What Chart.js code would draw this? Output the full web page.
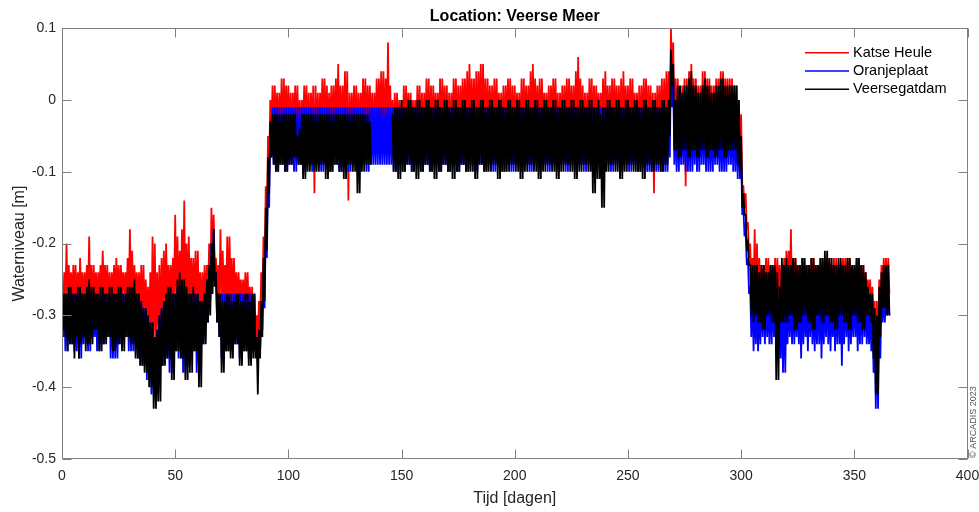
<!DOCTYPE html>
<html>
<head>
<meta charset="utf-8">
<script src="https://cdn.jsdelivr.net/npm/chart.js@4/dist/chart.umd.min.js"></script>
<style>
html,body{margin:0;padding:0;background:#ffffff;}
canvas{display:block;}
</style>
</head>
<body>
<canvas id="c" width="979" height="512"></canvas>
<script>
// ---- Data: water level [m], daily high and daily low per station (day 0..365) ----
const seriesNames = ['Katse Heule', 'Oranjeplaat', 'Veersegatdam'];
const seriesColors = ['#ff0000', '#0000ff', '#000000'];
const xTickValues = [0, 50, 100, 150, 200, 250, 300, 350, 400];
const yTickValues = [-0.5, -0.4, -0.3, -0.2, -0.1, 0, 0.1];

const katseHeuleHigh = [
-0.26,-0.24,-0.20,-0.23,-0.24,-0.23,-0.23,-0.24,-0.22,-0.24,
-0.24,-0.23,-0.19,-0.23,-0.23,-0.24,-0.24,-0.23,-0.21,-0.23,
-0.23,-0.24,-0.24,-0.23,-0.22,-0.23,-0.23,-0.24,-0.24,-0.22,
-0.18,-0.21,-0.23,-0.24,-0.24,-0.23,-0.23,-0.25,-0.26,-0.24,
-0.19,-0.20,-0.24,-0.23,-0.22,-0.21,-0.20,-0.23,-0.23,-0.22,
-0.16,-0.19,-0.21,-0.18,-0.14,-0.20,-0.19,-0.22,-0.22,-0.21,
-0.21,-0.24,-0.24,-0.23,-0.23,-0.20,-0.15,-0.16,-0.22,-0.23,
-0.18,-0.21,-0.23,-0.19,-0.19,-0.22,-0.22,-0.24,-0.24,-0.25,
-0.25,-0.24,-0.24,-0.26,-0.26,-0.27,-0.30,-0.28,-0.24,-0.19,
-0.12,-0.05,0.00,0.02,0.02,0.01,0.01,0.03,0.03,0.02,
0.02,0.01,0.01,0.02,0.02,0.00,0.00,0.02,0.02,0.01,
0.01,0.02,0.02,0.01,0.01,0.03,0.03,0.02,0.01,0.02,
0.02,0.03,0.05,0.02,0.02,0.04,0.04,0.01,0.01,0.02,
0.02,0.01,0.01,0.03,0.03,0.02,0.02,0.01,0.01,0.03,
0.03,0.04,0.04,0.03,0.08,0.02,0.00,0.01,0.01,0.00,
0.00,0.02,0.02,0.01,0.01,0.00,0.00,0.02,0.02,0.01,
0.01,0.03,0.03,0.02,0.02,0.01,0.01,0.03,0.03,0.02,
0.02,0.01,0.01,0.03,0.03,0.02,0.02,0.03,0.03,0.04,
0.05,0.03,0.03,0.04,0.04,0.05,0.05,0.03,0.03,0.02,
0.02,0.03,0.03,0.01,0.01,0.02,0.02,0.03,0.03,0.02,
0.02,0.01,0.01,0.03,0.03,0.02,0.02,0.04,0.05,0.03,
0.02,0.03,0.03,0.01,0.01,0.02,0.02,0.03,0.03,0.01,
0.01,0.02,0.02,0.03,0.03,0.02,0.02,0.04,0.06,0.03,
0.02,0.01,0.01,0.03,0.03,0.02,0.02,0.01,0.01,0.03,
0.04,0.02,0.02,0.03,0.03,0.02,0.02,0.03,0.04,0.02,
0.02,0.03,0.03,0.01,0.01,0.02,0.02,0.03,0.03,0.02,
0.02,0.01,0.01,0.02,0.02,0.03,0.03,0.04,0.04,0.10,
0.08,0.03,0.03,0.02,0.02,0.03,0.03,0.04,0.05,0.03,
0.03,0.02,0.02,0.04,0.04,0.03,0.03,0.02,0.02,0.03,
0.03,0.04,0.04,0.03,0.03,0.03,0.03,0.02,0.02,0.00,
-0.02,-0.12,-0.13,-0.17,-0.20,-0.22,-0.18,-0.20,-0.22,-0.23,
-0.23,-0.22,-0.22,-0.23,-0.23,-0.22,-0.22,-0.23,-0.23,-0.22,
-0.21,-0.21,-0.18,-0.22,-0.22,-0.23,-0.23,-0.22,-0.22,-0.23,
-0.23,-0.22,-0.22,-0.23,-0.23,-0.22,-0.22,-0.23,-0.22,-0.22,
-0.23,-0.22,-0.22,-0.23,-0.23,-0.22,-0.22,-0.22,-0.22,-0.23,
-0.23,-0.22,-0.22,-0.23,-0.23,-0.24,-0.25,-0.25,-0.26,-0.28,
-0.28,-0.25,-0.23,-0.22,-0.22,-0.22
];
const katseHeuleLow = [
-0.29,-0.28,-0.28,-0.28,-0.28,-0.28,-0.29,-0.29,-0.28,-0.28,
-0.28,-0.28,-0.29,-0.29,-0.28,-0.28,-0.27,-0.27,-0.28,-0.28,
-0.29,-0.29,-0.28,-0.28,-0.28,-0.28,-0.27,-0.27,-0.28,-0.28,
-0.29,-0.29,-0.28,-0.28,-0.30,-0.30,-0.31,-0.31,-0.33,-0.33,
-0.34,-0.34,-0.32,-0.32,-0.29,-0.29,-0.28,-0.28,-0.28,-0.28,
-0.29,-0.29,-0.28,-0.28,-0.29,-0.29,-0.28,-0.28,-0.29,-0.29,
-0.30,-0.30,-0.29,-0.29,-0.28,-0.28,-0.22,-0.24,-0.28,-0.28,
-0.28,-0.28,-0.29,-0.29,-0.28,-0.28,-0.29,-0.29,-0.28,-0.28,
-0.29,-0.29,-0.30,-0.30,-0.35,-0.35,-0.34,-0.32,-0.29,-0.24,
-0.17,-0.10,-0.05,-0.06,-0.05,-0.05,-0.06,-0.06,-0.05,-0.05,
-0.06,-0.06,-0.05,-0.05,-0.06,-0.06,-0.05,-0.05,-0.06,-0.06,
-0.05,-0.13,-0.06,-0.06,-0.05,-0.05,-0.06,-0.06,-0.05,-0.05,
-0.06,-0.06,-0.05,-0.05,-0.06,-0.06,-0.14,-0.05,-0.05,-0.06,
-0.06,-0.05,-0.05,-0.06,-0.06,-0.05,-0.05,-0.06,-0.06,-0.05,
-0.05,-0.05,-0.06,-0.06,-0.05,-0.05,-0.06,-0.06,-0.05,-0.05,
-0.06,-0.06,-0.05,-0.05,-0.06,-0.06,-0.05,-0.05,-0.06,-0.06,
-0.05,-0.05,-0.06,-0.06,-0.05,-0.05,-0.06,-0.06,-0.05,-0.05,
-0.06,-0.06,-0.05,-0.05,-0.06,-0.06,-0.05,-0.05,-0.06,-0.06,
-0.05,-0.05,-0.06,-0.06,-0.05,-0.05,-0.06,-0.06,-0.05,-0.05,
-0.06,-0.06,-0.05,-0.05,-0.06,-0.06,-0.05,-0.05,-0.06,-0.06,
-0.05,-0.05,-0.06,-0.06,-0.05,-0.05,-0.06,-0.06,-0.05,-0.05,
-0.06,-0.06,-0.05,-0.05,-0.06,-0.06,-0.05,-0.05,-0.06,-0.06,
-0.05,-0.05,-0.06,-0.06,-0.05,-0.05,-0.06,-0.06,-0.05,-0.05,
-0.06,-0.06,-0.05,-0.05,-0.06,-0.06,-0.05,-0.05,-0.06,-0.06,
-0.05,-0.05,-0.06,-0.06,-0.05,-0.05,-0.06,-0.06,-0.05,-0.05,
-0.06,-0.06,-0.05,-0.05,-0.06,-0.06,-0.05,-0.05,-0.06,-0.06,
-0.06,-0.13,-0.05,-0.05,-0.06,-0.06,-0.05,-0.05,-0.04,0.03,
-0.05,-0.06,-0.06,-0.05,-0.05,-0.12,-0.05,-0.05,-0.06,-0.06,
-0.05,-0.05,-0.06,-0.06,-0.05,-0.05,-0.06,-0.06,-0.05,-0.05,
-0.06,-0.06,-0.05,-0.05,-0.06,-0.06,-0.05,-0.05,-0.06,-0.08,
-0.12,-0.15,-0.18,-0.22,-0.26,-0.27,-0.28,-0.28,-0.27,-0.27,
-0.28,-0.28,-0.27,-0.27,-0.28,-0.28,-0.27,-0.27,-0.28,-0.28,
-0.27,-0.27,-0.28,-0.28,-0.27,-0.27,-0.28,-0.28,-0.27,-0.27,
-0.28,-0.28,-0.27,-0.27,-0.28,-0.28,-0.27,-0.27,-0.28,-0.28,
-0.27,-0.27,-0.28,-0.28,-0.27,-0.27,-0.28,-0.28,-0.27,-0.27,
-0.28,-0.28,-0.27,-0.27,-0.28,-0.28,-0.28,-0.30,-0.33,-0.38,
-0.38,-0.30,-0.27,-0.27,-0.27,-0.27
];

const oranjeplaatHigh = [
-0.29,-0.27,-0.27,-0.27,-0.27,-0.27,-0.27,-0.27,-0.27,-0.27,
-0.27,-0.27,-0.27,-0.27,-0.27,-0.27,-0.27,-0.27,-0.27,-0.27,
-0.27,-0.27,-0.27,-0.27,-0.27,-0.27,-0.27,-0.27,-0.27,-0.27,
-0.27,-0.27,-0.27,-0.27,-0.27,-0.28,-0.29,-0.29,-0.30,-0.31,
-0.31,-0.33,-0.32,-0.30,-0.29,-0.28,-0.27,-0.27,-0.27,-0.27,
-0.27,-0.26,-0.26,-0.26,-0.26,-0.26,-0.27,-0.27,-0.27,-0.27,
-0.27,-0.28,-0.28,-0.27,-0.26,-0.24,-0.20,-0.18,-0.24,-0.27,
-0.27,-0.27,-0.27,-0.27,-0.27,-0.27,-0.27,-0.27,-0.27,-0.27,
-0.27,-0.27,-0.27,-0.27,-0.27,-0.27,-0.33,-0.33,-0.30,-0.25,
-0.18,-0.11,-0.04,-0.01,-0.01,-0.01,-0.01,-0.01,-0.01,-0.01,
-0.01,-0.01,-0.01,-0.01,-0.01,-0.01,-0.01,-0.01,-0.01,-0.01,
-0.01,-0.01,-0.01,-0.01,-0.01,-0.01,-0.01,-0.01,-0.01,-0.01,
-0.01,-0.01,-0.01,-0.01,-0.01,-0.01,-0.01,-0.01,-0.01,-0.01,
-0.01,-0.01,-0.01,-0.01,-0.01,-0.01,-0.01,-0.01,-0.01,-0.01,
-0.01,-0.01,-0.01,-0.01,-0.01,-0.01,-0.01,-0.01,-0.01,-0.01,
-0.01,-0.01,-0.01,-0.01,-0.01,-0.01,-0.01,-0.01,-0.01,-0.01,
-0.01,-0.01,-0.01,-0.01,-0.01,-0.01,-0.01,-0.01,-0.01,-0.01,
-0.01,-0.01,-0.01,-0.01,-0.01,-0.01,-0.01,-0.01,-0.01,-0.01,
-0.01,-0.01,-0.01,-0.01,-0.01,-0.01,-0.01,-0.01,-0.01,-0.01,
-0.01,-0.01,-0.01,-0.01,-0.01,-0.01,-0.01,-0.01,-0.01,-0.01,
-0.01,-0.01,-0.01,-0.01,-0.01,-0.01,-0.01,-0.01,-0.01,-0.01,
-0.01,-0.01,-0.01,-0.01,-0.01,-0.01,-0.01,-0.01,-0.01,-0.01,
-0.01,-0.01,-0.01,-0.01,-0.01,-0.01,-0.01,-0.01,-0.01,-0.01,
-0.01,-0.01,-0.01,-0.01,-0.01,-0.01,-0.01,-0.01,-0.01,-0.01,
-0.01,-0.01,-0.01,-0.01,-0.01,-0.01,-0.01,-0.01,-0.01,-0.01,
-0.01,-0.01,-0.01,-0.01,-0.01,-0.01,-0.01,-0.01,-0.01,-0.01,
-0.01,-0.01,-0.01,-0.01,-0.01,-0.01,-0.01,-0.01,-0.01,0.05,
0.03,-0.01,-0.01,-0.01,-0.01,0.00,0.00,-0.01,-0.01,-0.01,
-0.01,-0.01,-0.01,-0.01,0.00,0.00,-0.01,-0.01,-0.01,-0.01,
-0.01,-0.01,-0.01,-0.01,-0.01,-0.01,-0.01,-0.01,-0.01,-0.02,
-0.07,-0.15,-0.18,-0.22,-0.26,-0.26,-0.26,-0.27,-0.27,-0.26,
-0.26,-0.27,-0.27,-0.26,-0.26,-0.27,-0.27,-0.28,-0.26,-0.26,
-0.27,-0.27,-0.26,-0.26,-0.27,-0.27,-0.26,-0.26,-0.27,-0.27,
-0.26,-0.26,-0.27,-0.27,-0.26,-0.26,-0.27,-0.27,-0.26,-0.26,
-0.27,-0.27,-0.26,-0.26,-0.27,-0.27,-0.26,-0.26,-0.27,-0.27,
-0.26,-0.27,-0.27,-0.26,-0.26,-0.27,-0.28,-0.28,-0.29,-0.31,
-0.32,-0.28,-0.27,-0.27,-0.27,-0.27
];
const oranjeplaatLow = [
-0.33,-0.35,-0.35,-0.34,-0.34,-0.35,-0.35,-0.36,-0.36,-0.34,
-0.34,-0.35,-0.35,-0.33,-0.33,-0.35,-0.35,-0.34,-0.34,-0.33,
-0.33,-0.36,-0.36,-0.36,-0.36,-0.34,-0.34,-0.33,-0.33,-0.35,
-0.35,-0.35,-0.35,-0.36,-0.36,-0.37,-0.37,-0.39,-0.39,-0.41,
-0.41,-0.41,-0.41,-0.37,-0.37,-0.36,-0.36,-0.38,-0.38,-0.35,
-0.35,-0.36,-0.36,-0.38,-0.38,-0.37,-0.37,-0.35,-0.35,-0.38,
-0.38,-0.34,-0.34,-0.31,-0.31,-0.28,-0.26,-0.25,-0.31,-0.33,
-0.36,-0.36,-0.35,-0.35,-0.35,-0.35,-0.34,-0.34,-0.36,-0.36,
-0.35,-0.35,-0.36,-0.36,-0.35,-0.35,-0.37,-0.35,-0.32,-0.29,
-0.22,-0.15,-0.08,-0.09,-0.10,-0.10,-0.09,-0.09,-0.10,-0.10,
-0.09,-0.09,-0.10,-0.10,-0.09,-0.09,-0.10,-0.10,-0.09,-0.09,
-0.10,-0.10,-0.09,-0.09,-0.10,-0.10,-0.09,-0.09,-0.10,-0.10,
-0.09,-0.09,-0.10,-0.10,-0.09,-0.09,-0.10,-0.10,-0.09,-0.09,
-0.10,-0.10,-0.09,-0.09,-0.10,-0.10,-0.09,-0.09,-0.09,-0.09,
-0.09,-0.09,-0.09,-0.09,-0.09,-0.09,-0.10,-0.10,-0.09,-0.09,
-0.10,-0.10,-0.09,-0.09,-0.10,-0.10,-0.09,-0.09,-0.10,-0.10,
-0.09,-0.09,-0.10,-0.10,-0.09,-0.09,-0.10,-0.10,-0.09,-0.09,
-0.10,-0.10,-0.09,-0.09,-0.10,-0.10,-0.09,-0.09,-0.10,-0.10,
-0.09,-0.09,-0.10,-0.10,-0.09,-0.09,-0.10,-0.10,-0.09,-0.09,
-0.10,-0.10,-0.09,-0.09,-0.10,-0.10,-0.09,-0.09,-0.10,-0.10,
-0.09,-0.09,-0.10,-0.10,-0.09,-0.09,-0.10,-0.10,-0.09,-0.09,
-0.10,-0.10,-0.09,-0.09,-0.10,-0.10,-0.09,-0.09,-0.10,-0.10,
-0.09,-0.09,-0.10,-0.10,-0.09,-0.09,-0.10,-0.10,-0.09,-0.09,
-0.10,-0.10,-0.09,-0.09,-0.10,-0.10,-0.09,-0.09,-0.10,-0.10,
-0.09,-0.09,-0.10,-0.10,-0.09,-0.09,-0.10,-0.10,-0.09,-0.09,
-0.10,-0.10,-0.09,-0.09,-0.10,-0.10,-0.09,-0.09,-0.10,-0.10,
-0.10,-0.10,-0.10,-0.10,-0.10,-0.10,-0.10,-0.10,-0.08,-0.01,
-0.09,-0.10,-0.10,-0.09,-0.09,-0.10,-0.10,-0.10,-0.10,-0.09,
-0.10,-0.10,-0.09,-0.09,-0.10,-0.10,-0.10,-0.10,-0.09,-0.09,
-0.10,-0.10,-0.10,-0.10,-0.09,-0.09,-0.10,-0.10,-0.11,-0.11,
-0.16,-0.19,-0.23,-0.27,-0.33,-0.35,-0.34,-0.35,-0.34,-0.33,
-0.34,-0.33,-0.34,-0.34,-0.33,-0.34,-0.36,-0.36,-0.38,-0.38,
-0.34,-0.33,-0.34,-0.34,-0.33,-0.34,-0.36,-0.34,-0.33,-0.35,
-0.33,-0.34,-0.35,-0.34,-0.34,-0.36,-0.34,-0.33,-0.34,-0.35,
-0.33,-0.35,-0.34,-0.34,-0.37,-0.34,-0.33,-0.35,-0.34,-0.33,
-0.33,-0.35,-0.34,-0.34,-0.33,-0.34,-0.34,-0.35,-0.38,-0.43,
-0.43,-0.36,-0.31,-0.31,-0.30,-0.30
];

const veersegatdamHigh = [
-0.29,-0.27,-0.27,-0.26,-0.26,-0.27,-0.27,-0.26,-0.26,-0.27,
-0.27,-0.26,-0.25,-0.26,-0.26,-0.27,-0.27,-0.26,-0.26,-0.27,
-0.27,-0.26,-0.26,-0.27,-0.27,-0.26,-0.26,-0.27,-0.27,-0.26,
-0.26,-0.26,-0.25,-0.27,-0.27,-0.28,-0.29,-0.29,-0.30,-0.31,
-0.31,-0.33,-0.32,-0.30,-0.29,-0.28,-0.27,-0.26,-0.26,-0.27,
-0.27,-0.25,-0.24,-0.25,-0.25,-0.26,-0.27,-0.27,-0.26,-0.27,
-0.27,-0.28,-0.28,-0.27,-0.25,-0.23,-0.20,-0.18,-0.24,-0.27,
-0.27,-0.28,-0.28,-0.27,-0.27,-0.28,-0.28,-0.27,-0.27,-0.28,
-0.28,-0.27,-0.27,-0.28,-0.27,-0.27,-0.33,-0.32,-0.28,-0.22,
-0.15,-0.08,-0.03,-0.02,-0.02,-0.02,-0.02,-0.02,-0.02,-0.02,
-0.02,-0.02,-0.02,-0.02,-0.05,-0.04,-0.02,-0.02,-0.02,-0.02,
-0.02,-0.02,-0.02,-0.02,-0.02,-0.02,-0.02,-0.02,-0.02,-0.02,
-0.02,-0.02,-0.02,-0.02,-0.02,-0.02,-0.02,-0.02,-0.02,-0.02,
-0.02,-0.02,-0.02,-0.02,-0.02,-0.02,-0.03,null,null,null,
null,null,null,null,null,null,-0.02,-0.01,-0.01,-0.01,
0.00,-0.01,-0.01,0.00,0.00,-0.01,-0.01,0.00,0.00,-0.01,
-0.01,0.00,0.00,-0.01,-0.01,0.00,0.00,-0.01,-0.01,0.00,
0.00,-0.01,-0.01,0.00,0.00,-0.01,-0.01,0.00,0.00,-0.01,
-0.01,0.00,0.00,-0.01,-0.01,0.00,0.00,-0.01,-0.01,0.00,
0.00,-0.01,-0.01,0.00,0.00,-0.01,-0.01,0.00,0.00,-0.01,
-0.01,0.00,0.00,-0.01,-0.01,0.00,0.00,-0.01,-0.01,0.00,
0.00,-0.01,-0.01,0.00,0.00,-0.01,-0.01,0.00,0.00,-0.01,
-0.01,0.00,0.00,-0.01,-0.01,0.00,0.00,-0.01,-0.01,0.00,
0.00,-0.01,-0.01,0.00,0.00,-0.01,-0.01,0.00,-0.02,-0.01,
-0.01,0.00,0.00,-0.01,-0.01,0.00,0.00,-0.01,-0.01,0.00,
0.00,-0.01,-0.01,0.00,0.00,-0.01,-0.01,0.00,0.00,-0.01,
-0.01,0.00,0.00,-0.01,-0.01,0.00,0.00,-0.01,0.00,0.07,
0.05,0.00,0.02,0.02,0.01,0.02,0.02,0.03,0.04,0.02,
0.02,0.01,0.01,0.02,0.03,0.02,0.02,0.01,0.01,0.02,
0.02,0.03,0.03,0.02,0.02,0.02,0.02,0.02,0.02,0.00,
-0.05,-0.13,-0.16,-0.20,-0.23,-0.23,-0.23,-0.23,-0.24,-0.23,
-0.23,-0.24,-0.24,-0.23,-0.23,-0.23,-0.24,-0.26,-0.22,-0.23,
-0.22,-0.23,-0.23,-0.22,-0.22,-0.23,-0.23,-0.22,-0.22,-0.23,
-0.23,-0.22,-0.22,-0.23,-0.23,-0.22,-0.22,-0.21,-0.21,-0.22,
-0.22,-0.23,-0.23,-0.22,-0.22,-0.23,-0.23,-0.22,-0.22,-0.23,
-0.23,-0.22,-0.22,-0.23,-0.23,-0.24,-0.26,-0.27,-0.27,-0.29,
-0.30,-0.26,-0.24,-0.23,-0.23,-0.23
];
const veersegatdamLow = [
-0.32,-0.33,-0.35,-0.34,-0.34,-0.36,-0.33,-0.36,-0.34,-0.33,
-0.35,-0.34,-0.34,-0.34,-0.32,-0.32,-0.35,-0.35,-0.34,-0.34,
-0.33,-0.33,-0.35,-0.35,-0.34,-0.34,-0.35,-0.35,-0.33,-0.33,
-0.34,-0.34,-0.36,-0.36,-0.37,-0.37,-0.38,-0.38,-0.40,-0.40,
-0.43,-0.43,-0.42,-0.42,-0.37,-0.37,-0.36,-0.36,-0.39,-0.39,
-0.35,-0.35,-0.36,-0.36,-0.39,-0.39,-0.38,-0.38,-0.35,-0.35,
-0.40,-0.40,-0.34,-0.34,-0.31,-0.30,-0.27,-0.26,-0.31,-0.33,
-0.38,-0.38,-0.35,-0.35,-0.36,-0.36,-0.34,-0.34,-0.37,-0.37,
-0.35,-0.35,-0.37,-0.37,-0.36,-0.36,-0.41,-0.36,-0.33,-0.28,
-0.21,-0.13,-0.08,-0.09,-0.10,-0.10,-0.09,-0.09,-0.10,-0.10,
-0.09,-0.09,-0.08,-0.08,-0.09,-0.09,-0.11,-0.11,-0.10,-0.10,
-0.09,-0.10,-0.10,-0.10,-0.09,-0.09,-0.11,-0.11,-0.10,-0.10,
-0.09,-0.09,-0.10,-0.10,-0.11,-0.11,-0.09,-0.09,-0.10,-0.10,
-0.13,-0.13,-0.10,-0.10,-0.09,-0.09,-0.09,null,null,null,
null,null,null,null,null,null,-0.10,-0.10,-0.11,-0.11,
-0.10,-0.10,-0.09,-0.09,-0.10,-0.10,-0.11,-0.11,-0.10,-0.10,
-0.09,-0.09,-0.10,-0.10,-0.11,-0.11,-0.10,-0.10,-0.09,-0.09,
-0.10,-0.10,-0.11,-0.11,-0.10,-0.10,-0.09,-0.09,-0.10,-0.10,
-0.10,-0.10,-0.11,-0.11,-0.09,-0.09,-0.10,-0.10,-0.10,-0.10,
-0.09,-0.09,-0.11,-0.11,-0.10,-0.10,-0.10,-0.10,-0.09,-0.09,
-0.10,-0.10,-0.11,-0.11,-0.10,-0.10,-0.09,-0.09,-0.10,-0.10,
-0.11,-0.11,-0.10,-0.10,-0.09,-0.09,-0.10,-0.10,-0.11,-0.11,
-0.10,-0.10,-0.09,-0.09,-0.10,-0.10,-0.11,-0.11,-0.10,-0.10,
-0.09,-0.09,-0.10,-0.10,-0.13,-0.13,-0.11,-0.11,-0.15,-0.15,
-0.10,-0.10,-0.09,-0.09,-0.10,-0.10,-0.11,-0.11,-0.10,-0.10,
-0.09,-0.09,-0.10,-0.10,-0.10,-0.10,-0.11,-0.11,-0.09,-0.09,
-0.10,-0.10,-0.09,-0.09,-0.10,-0.10,-0.09,-0.09,-0.05,0.02,
-0.07,-0.07,-0.08,-0.08,-0.07,-0.07,-0.08,-0.08,-0.07,-0.07,
-0.08,-0.08,-0.07,-0.07,-0.08,-0.08,-0.07,-0.07,-0.08,-0.08,
-0.07,-0.07,-0.08,-0.08,-0.07,-0.07,-0.07,-0.07,-0.09,-0.10,
-0.15,-0.16,-0.21,-0.23,-0.30,-0.31,-0.30,-0.31,-0.31,-0.32,
-0.32,-0.30,-0.30,-0.31,-0.31,-0.39,-0.39,-0.31,-0.31,-0.31,
-0.31,-0.30,-0.30,-0.32,-0.32,-0.31,-0.31,-0.30,-0.30,-0.31,
-0.31,-0.32,-0.32,-0.30,-0.30,-0.31,-0.31,-0.30,-0.30,-0.31,
-0.31,-0.32,-0.32,-0.30,-0.30,-0.31,-0.31,-0.32,-0.32,-0.30,
-0.30,-0.31,-0.31,-0.32,-0.32,-0.30,-0.30,-0.31,-0.36,-0.41,
-0.41,-0.33,-0.29,-0.29,-0.30,-0.30
];

const seriesHigh = [katseHeuleHigh, oranjeplaatHigh, veersegatdamHigh];
const seriesLow = [katseHeuleLow, oranjeplaatLow, veersegatdamLow];
const drawOrder = [3, 2, 1]; // Veersegatdam on top, Katse Heule at the back

const FONT = "'Liberation Sans', Arial, Helvetica, sans-serif";
const AXIS_COLOR = '#808080';
const TEXT_COLOR = '#262626';

// daily high at the start of the day, daily low half a day later
function dayPoints(high, low) {
  const pts = [];
  high.forEach((h, d) => {
    pts.push({ x: d, y: h });
    pts.push({ x: d + 0.5, y: low[d] });
  });
  return pts;
}

const datasets = seriesNames.map((name, i) => ({
  label: name,
  data: dayPoints(seriesHigh[i], seriesLow[i]),
  borderColor: seriesColors[i],
  backgroundColor: seriesColors[i],
  borderWidth: 1.8,
  pointRadius: 0,
  pointHoverRadius: 0,
  tension: 0,
  fill: false,
  spanGaps: false,
  order: drawOrder[i]
}));

// Box + inward tick marks (MATLAB style), legend inside the axes, and copyright note
const decorPlugin = {
  id: 'decor',
  afterDraw(chart) {
    const ctx = chart.ctx;
    const a = chart.chartArea;
    const xs = chart.scales.x, ys = chart.scales.y;
    ctx.save();
    ctx.strokeStyle = AXIS_COLOR;
    ctx.lineWidth = 1;
    const L = Math.round(a.left) + 0.5, R = Math.round(a.right) - 0.5;
    const T = Math.round(a.top) + 0.5, B = Math.round(a.bottom) - 0.5;
    ctx.strokeRect(L, T, R - L, B - T);
    const tl = 9;
    ctx.beginPath();
    xTickValues.forEach(v => {
      const px = Math.round(xs.getPixelForValue(v)) + 0.5;
      ctx.moveTo(px, B); ctx.lineTo(px, B - tl);
      ctx.moveTo(px, T); ctx.lineTo(px, T + tl);
    });
    yTickValues.forEach(v => {
      const py = Math.round(ys.getPixelForValue(v)) + 0.5;
      ctx.moveTo(L, py); ctx.lineTo(L + tl, py);
      ctx.moveTo(R, py); ctx.lineTo(R - tl, py);
    });
    ctx.stroke();

    // legend
    const lx0 = 805, lx1 = 849, tx = 853, y0 = 52.7, dy = 18.3;
    ctx.font = '14.5px ' + FONT;
    ctx.textBaseline = 'middle';
    ctx.textAlign = 'left';
    chart.data.datasets.forEach((ds, i) => {
      const y = y0 + i * dy;
      ctx.strokeStyle = ds.borderColor;
      ctx.lineWidth = 1.5;
      ctx.beginPath();
      ctx.moveTo(lx0, y); ctx.lineTo(lx1, y);
      ctx.stroke();
      ctx.fillStyle = '#000000';
      ctx.fillText(ds.label, tx, y);
    });

    // copyright
    ctx.translate(976, 458);
    ctx.rotate(-Math.PI / 2);
    ctx.font = '9px ' + FONT;
    ctx.fillStyle = '#555555';
    ctx.textAlign = 'left';
    ctx.textBaseline = 'alphabetic';
    ctx.fillText('\u00A9 ARCADIS 2023', 0, 0);
    ctx.restore();
  }
};

new Chart(document.getElementById('c'), {
  type: 'line',
  data: { datasets },
  options: {
    responsive: false,
    devicePixelRatio: 1,
    animation: false,
    events: [],
    layout: { padding: { left: 0, right: 11.5, top: 0, bottom: 0 } },
    plugins: {
      legend: { display: false },
      tooltip: { enabled: false },
      title: {
        display: true,
        text: 'Location: Veerse Meer',
        fullSize: false,
        color: '#000000',
        font: { family: FONT, size: 16, weight: 'bold' },
        padding: { top: 7, bottom: 2 }
      }
    },
    scales: {
      x: {
        type: 'linear',
        min: 0, max: 400,
        afterBuildTicks: s => { s.ticks = xTickValues.map(v => ({ value: v })); },
        afterFit: s => { s.height = 53; s.paddingLeft = 0; s.paddingRight = 0; },
        grid: { display: false, drawTicks: false, tickLength: 0 },
        border: { display: false },
        ticks: {
          font: { family: FONT, size: 14 },
          color: TEXT_COLOR,
          padding: 9,
          maxRotation: 0,
          autoSkip: false,
          callback: v => String(v)
        },
        title: {
          display: true,
          text: 'Tijd [dagen]',
          color: TEXT_COLOR,
          font: { family: FONT, size: 16 },
          padding: { top: 0, bottom: 4 }
        }
      },
      y: {
        type: 'linear',
        min: -0.5, max: 0.1,
        afterBuildTicks: s => { s.ticks = yTickValues.map(v => ({ value: v })); },
        afterFit: s => { s.width = 62; s.paddingTop = 0; s.paddingBottom = 0; },
        grid: { display: false, drawTicks: false, tickLength: 0 },
        border: { display: false },
        ticks: {
          font: { family: FONT, size: 14 },
          color: TEXT_COLOR,
          padding: 6,
          autoSkip: false,
          callback: v => String(v)
        },
        title: {
          display: true,
          text: 'Waterniveau [m]',
          color: TEXT_COLOR,
          font: { family: FONT, size: 16 },
          padding: { top: 10, bottom: 0 }
        }
      }
    }
  },
  plugins: [decorPlugin]
});
</script>
</body>
</html>
